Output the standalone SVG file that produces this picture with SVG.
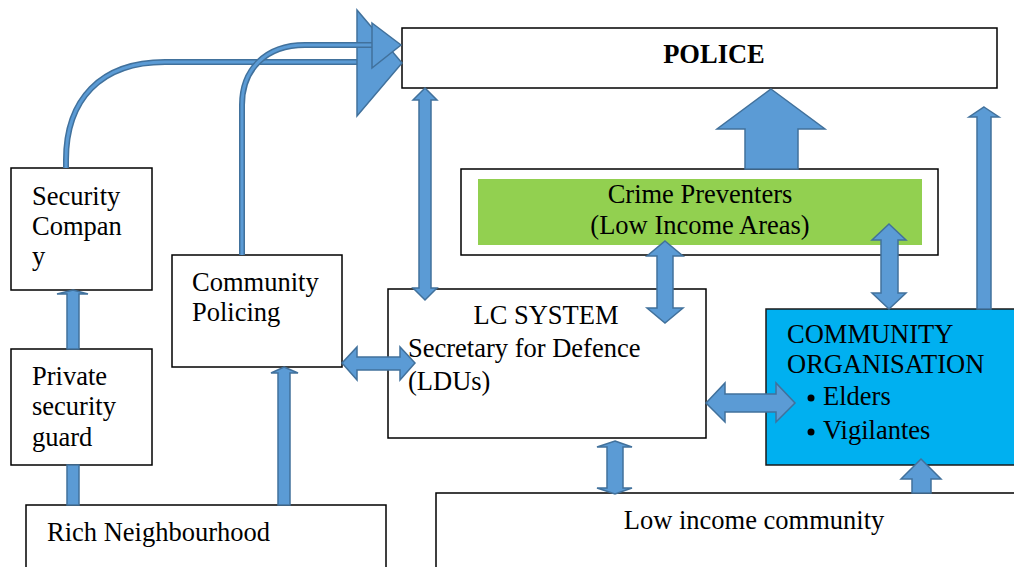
<svg xmlns="http://www.w3.org/2000/svg" width="1014" height="567" viewBox="0 0 1014 567">
  <style>
    .box { fill: #ffffff; stroke: #000000; stroke-width: 1.5; }
    text { font-family: 'Liberation Serif', 'Times New Roman', Times, serif; font-size: 26.5px; fill: #000000; }
    .arr { fill: #5B9BD5; stroke: #41719C; stroke-width: 1.5; stroke-linejoin: miter; }
    .pipeO { fill: none; stroke: #41719C; stroke-width: 6; }
    .pipeI { fill: none; stroke: #5B9BD5; stroke-width: 3; }
  </style>
  <rect width="1014" height="567" fill="#ffffff"/>

  <g id="police">
    <rect class="box" x="402" y="28" width="595" height="60"/>
    <text x="714" y="63" text-anchor="middle" font-weight="bold">POLICE</text>
  </g>

  <g id="security-company">
    <rect class="box" x="11" y="168" width="141" height="122"/>
    <text x="32" y="205">Security</text>
    <text x="32" y="235">Compan</text>
    <text x="32" y="265">y</text>
  </g>

  <g id="community-policing">
    <rect class="box" x="172" y="255" width="170" height="112"/>
    <text x="192" y="291">Community</text>
    <text x="192" y="321">Policing</text>
  </g>

  <g id="private-guard">
    <rect class="box" x="11" y="349" width="141" height="116"/>
    <text x="32" y="385">Private</text>
    <text x="32" y="415">security</text>
    <text x="32" y="446">guard</text>
  </g>

  <g id="rich-neighbourhood">
    <rect class="box" x="26" y="505" width="360" height="70"/>
    <text x="47" y="541">Rich Neighbourhood</text>
  </g>

  <g id="crime-preventers">
    <rect class="box" x="461" y="169" width="477" height="86"/>
    <rect x="478" y="179" width="444" height="66" fill="#92D050"/>
    <text x="700" y="203" text-anchor="middle">Crime Preventers</text>
    <text x="700" y="234" text-anchor="middle">(Low Income Areas)</text>
  </g>

  <g id="lc-system">
    <rect class="box" x="388" y="289" width="318" height="149"/>
    <text x="546" y="324" text-anchor="middle">LC SYSTEM</text>
    <text x="408" y="357">Secretary for Defence</text>
    <text x="408" y="390">(LDUs)</text>
  </g>

  <g id="community-organisation">
    <rect x="766" y="309" width="260" height="156" fill="#00B0F0" stroke="#1a1a1a" stroke-width="1.5"/>
    <text x="787" y="343">COMMUNITY</text>
    <text x="787" y="373">ORGANISATION</text>
    <circle cx="811" cy="398" r="3.5" fill="#000000"/>
    <text x="823" y="405">Elders</text>
    <circle cx="811" cy="432" r="3.5" fill="#000000"/>
    <text x="823" y="439">Vigilantes</text>
  </g>

  <g id="low-income-community">
    <rect class="box" x="436" y="493" width="600" height="90"/>
    <text x="754" y="529" text-anchor="middle">Low income community</text>
  </g>

  <g id="connectors">
    <!-- curved pipes into the police -->
    <path class="pipeO" d="M66,168 V160 C66,100 100,62 165,62 H358"/>
    <path class="pipeI" d="M66,168 V160 C66,100 100,62 165,62 H358"/>
    <path class="arr" d="M357,10 L402,63 L357,116 Z"/>
    <path class="pipeO" d="M242,255 V105 C242,70 265,45 305,45 H373"/>
    <path class="pipeI" d="M242,255 V105 C242,70 265,45 305,45 H373"/>
    <path class="arr" d="M372,23 L401,45 L372,68 Z"/>

    <!-- police <-> LC system -->
    <path class="arr" d="M425,88 L437,100 L431,100 L431,288 L437,288 L425,300 L413,288 L419,288 L419,100 L413,100 Z"/>

    <!-- crime preventers -> police -->
    <path class="arr" d="M771,89 L825,129 L798,129 L798,169 L745,169 L745,129 L717,129 Z"/>

    <!-- community organisation -> police -->
    <path class="arr" d="M984,107 L999,117 L991,117 L991,309 L977,309 L977,117 L969,117 Z"/>

    <!-- crime preventers <-> LC system -->
    <path class="arr" d="M665,241 L683,256 L673,256 L673,308 L683,308 L665,323 L647,308 L657,308 L657,256 L647,256 Z"/>

    <!-- crime preventers <-> community organisation -->
    <path class="arr" d="M889,224 L906,240 L898,240 L898,293 L906,293 L889,309 L872,293 L881,293 L881,240 L872,240 Z"/>

    <!-- community policing <-> LC system -->
    <path class="arr" d="M342,363 L357,347 L357,357 L400,357 L400,347 L415,363 L400,380 L400,370 L357,370 L357,380 Z"/>

    <!-- LC system <-> community organisation -->
    <path class="arr" d="M706,403 L725,383 L725,394 L776,394 L776,383 L795,403 L776,422 L776,412 L725,412 L725,422 Z"/>

    <!-- LC system <-> low income community -->
    <path class="arr" d="M615,441 L632,447 L623,447 L623,488 L632,488 L615,494 L597,488 L607,488 L607,447 L597,447 Z"/>

    <!-- low income community -> community organisation -->
    <path class="arr" d="M921,459 L941,479 L931,479 L931,493 L912,493 L912,479 L901,479 Z"/>

    <!-- private guard -> security company -->
    <path class="arr" d="M73,290 L88,294 L79,294 L79,349 L67,349 L67,294 L57,294 Z"/>
    <!-- rich neighbourhood -> private guard -->
    <path class="arr" d="M67,465 L79,465 L79,505 L67,505 Z"/>

    <!-- rich neighbourhood -> community policing -->
    <path class="arr" d="M284,367 L298,373 L290,373 L290,505 L278,505 L278,373 L271,373 Z"/>
  </g>
</svg>
